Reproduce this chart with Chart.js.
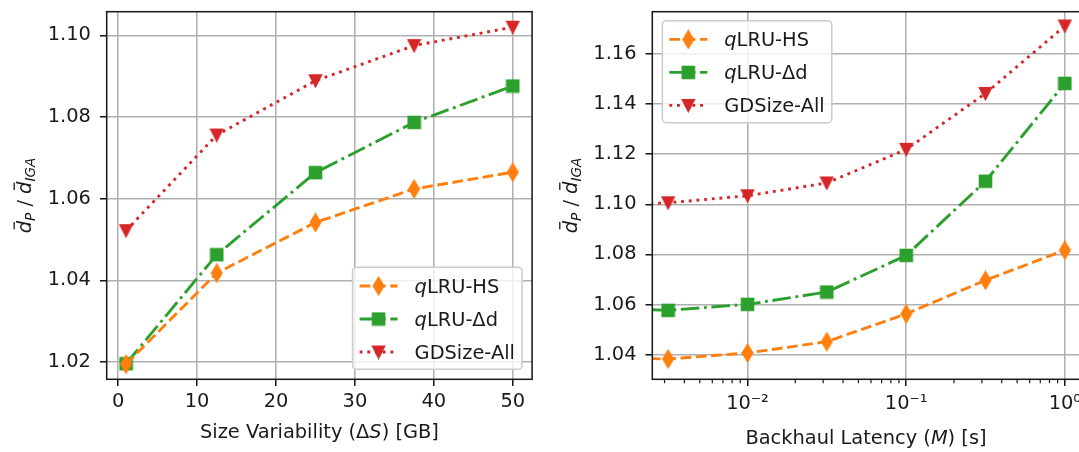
<!DOCTYPE html>
<html>
<head>
<meta charset="utf-8">
<script src="https://cdn.jsdelivr.net/npm/chart.js@4.4.1/dist/chart.umd.min.js"></script>
<style>
  html, body { margin: 0; padding: 0; background: #fff; overflow: hidden; }
  #stage { position: relative; width: 1079px; height: 452px; overflow: hidden; }
  canvas { position: absolute; top: 0; }
  #sizeChart { left: 0; }
  #latencyChart { left: 540px; }
</style>
</head>
<body>
<div id="stage">
  <canvas id="sizeChart" width="540" height="452"></canvas>
  <canvas id="latencyChart" width="560" height="452"></canvas>
</div>
<script>
// size variability panel
const sizeLevels = [1, 12.5, 25, 37.5, 50];
const sizeHS = [1.0195, 1.0418, 1.0542, 1.0624, 1.0665];
const sizeDd = [1.0196, 1.0463, 1.0664, 1.0787, 1.0876];
const sizeGD = [1.0522, 1.0756, 1.0889, 1.0975, 1.1020];
const sizeXTicks = [0, 10, 20, 30, 40, 50];
const sizeYTicks = [1.02, 1.04, 1.06, 1.08, 1.10];

// backhaul latency panel (first point sits left of the visible range)
const latLevels = [0.001, 0.00316, 0.01, 0.0316, 0.1, 0.316, 1];
const latHS = [1.0390, 1.0383, 1.0407, 1.0452, 1.0563, 1.0697, 1.0817];
const latDd = [1.0590, 1.0577, 1.0601, 1.0650, 1.0796, 1.1092, 1.1482];
const latGD = [1.0992, 1.1006, 1.1034, 1.1085, 1.1219, 1.1442, 1.1711];
const latDecades = [0.001, 0.01, 0.1, 1];
const latMinorSteps = [2, 3, 4, 5, 6, 7, 8, 9];
const latYTicks = [1.04, 1.06, 1.08, 1.10, 1.12, 1.14, 1.16];

const seriesNames = ['qLRU-HS', 'qLRU-Δd', 'GDSize-All'];
const seriesColors = ['#ff7f0e', '#2ca02c', '#d62728'];

const FONT = '"DejaVu Sans"';
const FS = 19.4;
const LW = 2.9;
const GRID = '#b0b0b0';
const INK = '#1a1a1a';
const lineStyles = [
  { dash: [10.7, 4.6], marker: 'diamond' },
  { dash: [18.6, 4.6, 2.9, 4.6], marker: 'square' },
  { dash: [2.9, 4.8], marker: 'tri' }
];

function makeMarker(shape, color) {
  const dims = { diamond: [5, 8.25], square: [5.85, 5.85], tri: [5.7, 5.6] }[shape];
  const a = dims[0], b = dims[1];
  const c = document.createElement('canvas');
  c.width = Math.ceil(2 * (a + 1.5));
  c.height = Math.ceil(2 * (b + 1.5));
  const g = c.getContext('2d');
  const cx = c.width / 2, cy = c.height / 2;
  g.beginPath();
  if (shape === 'diamond') {
    g.moveTo(cx, cy - b); g.lineTo(cx + a, cy); g.lineTo(cx, cy + b); g.lineTo(cx - a, cy);
  } else if (shape === 'square') {
    g.rect(cx - a, cy - b, 2 * a, 2 * b);
  } else {
    g.moveTo(cx - a, cy - b); g.lineTo(cx + a, cy - b); g.lineTo(cx, cy + b);
  }
  g.closePath();
  g.fillStyle = color; g.fill();
  g.lineWidth = 1.9; g.strokeStyle = color; g.stroke();
  return c;
}
const markers = lineStyles.map((s, i) => makeMarker(s.marker, seriesColors[i]));

function isDecade(v) {
  const l = Math.log10(v);
  return Math.abs(l - Math.round(l)) < 1e-6;
}
function supNum(n) {
  const map = { '-': '⁻', '0': '⁰', '1': '¹', '2': '²', '3': '³', '4': '⁴', '5': '⁵', '6': '⁶', '7': '⁷', '8': '⁸', '9': '⁹' };
  return String(n).split('').map(ch => map[ch]).join('');
}

function fontFor(p, size) { return (p.i ? 'italic ' : '') + size + 'px ' + FONT; }
function richWidth(ctx, parts, size) {
  let w = 0;
  parts.forEach(p => { ctx.font = fontFor(p, p.sub ? size * 0.7 : size); w += ctx.measureText(p.t).width; });
  return w;
}
function drawRich(ctx, parts, x, y, size) {
  parts.forEach(p => {
    const s = p.sub ? size * 0.7 : size;
    ctx.font = fontFor(p, s);
    const w = ctx.measureText(p.t).width;
    ctx.fillText(p.t, x, y + (p.sub ? size * 0.22 : 0));
    if (p.bar) ctx.fillRect(x + w * 0.32, y - size * 0.9, w * 0.6, 1.3);
    x += w;
  });
}
function labelParts(name) {
  return name[0] === 'q' ? [{ t: 'q', i: true }, { t: name.slice(1) }] : [{ t: name }];
}

const yTitleParts = [
  { t: 'd', i: true, bar: true }, { t: 'P', i: true, sub: true }, { t: ' / ' },
  { t: 'd', i: true, bar: true }, { t: 'IGA', i: true, sub: true }
];

function decorPlugin(cfg) {
  return {
    id: 'decor',
    afterDraw(chart) {
      const ctx = chart.ctx, a = chart.chartArea;
      ctx.save();
      if (cfg.minorTicks) {
        const xs = chart.scales.x;
        ctx.strokeStyle = INK; ctx.lineWidth = 1.2;
        xs.ticks.forEach(t => {
          if (isDecade(t.value)) return;
          const px = xs.getPixelForValue(t.value);
          ctx.beginPath(); ctx.moveTo(px, a.bottom); ctx.lineTo(px, a.bottom + 3.9); ctx.stroke();
        });
      }
      // axes frame
      ctx.strokeStyle = INK; ctx.lineWidth = 1.55;
      ctx.strokeRect(a.left, a.top, a.right - a.left, a.bottom - a.top);

      // legend
      const W = 169.5, H = 102, r = 3.9;
      const lx = cfg.legendCorner === 'br' ? a.right - 10 - W : a.left + 10;
      const ly = cfg.legendCorner === 'br' ? a.bottom - 10 - H : a.top + 9;
      ctx.beginPath();
      ctx.moveTo(lx + r, ly);
      ctx.arcTo(lx + W, ly, lx + W, ly + H, r);
      ctx.arcTo(lx + W, ly + H, lx, ly + H, r);
      ctx.arcTo(lx, ly + H, lx, ly, r);
      ctx.arcTo(lx, ly, lx + W, ly, r);
      ctx.closePath();
      ctx.fillStyle = 'rgba(255,255,255,0.8)'; ctx.fill();
      ctx.strokeStyle = '#cccccc'; ctx.lineWidth = 1.55; ctx.stroke();
      seriesNames.forEach((name, i) => {
        const ry = ly + 18.7 + i * 33;
        ctx.setLineDash(lineStyles[i].dash);
        ctx.strokeStyle = seriesColors[i]; ctx.lineWidth = LW;
        ctx.beginPath(); ctx.moveTo(lx + 7, ry); ctx.lineTo(lx + 45, ry); ctx.stroke();
        ctx.setLineDash([]);
        const m = markers[i];
        ctx.drawImage(m, lx + 26 - m.width / 2, ry - m.height / 2);
        ctx.fillStyle = INK; ctx.textBaseline = 'alphabetic'; ctx.textAlign = 'left';
        drawRich(ctx, labelParts(name), lx + 62, ry + 0.36 * FS, FS);
      });

      // axis titles
      ctx.fillStyle = INK; ctx.textAlign = 'left'; ctx.textBaseline = 'alphabetic';
      const xw = richWidth(ctx, cfg.xTitle, FS);
      const xc = cfg.xTitleX !== undefined ? cfg.xTitleX : (a.left + a.right) / 2;
      drawRich(ctx, cfg.xTitle, xc - xw / 2, cfg.xTitleY + 0.36 * FS, FS);
      ctx.translate(a.left - 75.7, (a.top + a.bottom) / 2);
      ctx.rotate(-Math.PI / 2);
      const yw = richWidth(ctx, yTitleParts, FS);
      drawRich(ctx, yTitleParts, -yw / 2, 0, FS);
      ctx.restore();
    }
  };
}

function makeDatasets(xs, seriesList) {
  return seriesList.map((ys, i) => ({
    label: seriesNames[i],
    data: xs.map((x, k) => ({ x: x, y: ys[k] })),
    borderColor: seriesColors[i],
    backgroundColor: seriesColors[i],
    borderWidth: LW,
    borderDash: lineStyles[i].dash,
    pointStyle: markers[i],
    pointRadius: 5,
    tension: 0,
    fill: false,
    clip: 0
  }));
}

// keep the plot box where it is: no automatic room for overhanging tick labels
function noOverhang(s) {
  s.paddingTop = 0; s.paddingBottom = 0; s.paddingLeft = 0; s.paddingRight = 0;
}

function yScale(min, max, tickVals, width) {
  return {
    type: 'linear', min: min, max: max, bounds: 'data',
    afterBuildTicks: s => { s.ticks = tickVals.map(v => ({ value: v })); },
    afterFit: s => { s.width = width; noOverhang(s); },
    ticks: { autoSkip: false, padding: 9, color: INK, font: { family: FONT, size: FS }, callback: v => v.toFixed(2) },
    grid: { color: GRID, lineWidth: 1.55, tickLength: 6.8, tickColor: INK, tickWidth: 1.55 },
    border: { display: false },
    title: { display: false }
  };
}

const baseOpts = {
  responsive: false,
  animation: false,
  devicePixelRatio: 1,
  events: [],
  plugins: { legend: { display: false }, tooltip: { enabled: false } }
};

new Chart(document.getElementById('sizeChart'), {
  type: 'line',
  data: { datasets: makeDatasets(sizeLevels, [sizeHS, sizeDd, sizeGD]) },
  options: Object.assign({}, baseOpts, {
    layout: { padding: { top: 11.7, right: 4.1, bottom: 0, left: 0 } },
    scales: {
      x: {
        type: 'linear', min: -1.45, max: 52.45, bounds: 'data',
        afterBuildTicks: s => { s.ticks = sizeXTicks.map(v => ({ value: v })); },
        afterFit: s => { s.height = 72.7; noOverhang(s); },
        ticks: { autoSkip: false, maxRotation: 0, padding: 4, color: INK, font: { family: FONT, size: FS }, callback: v => String(v) },
        grid: { color: GRID, lineWidth: 1.55, tickLength: 6.8, tickColor: INK, tickWidth: 1.55 },
        border: { display: false }
      },
      y: yScale(1.0158, 1.1058, sizeYTicks, 106.7)
    }
  }),
  plugins: [decorPlugin({
    legendCorner: 'br',
    xTitleY: 431,
    xTitle: [{ t: 'Size Variability (Δ' }, { t: 'S', i: true }, { t: ') [GB]' }]
  })]
});

const latTicks = [];
latDecades.forEach(d => {
  latTicks.push(d);
  latMinorSteps.forEach(m => latTicks.push(d * m));
});

// the right panel runs past the window edge, as in the original figure
new Chart(document.getElementById('latencyChart'), {
  type: 'line',
  data: { datasets: makeDatasets(latLevels, [latHS, latDd, latGD]) },
  options: Object.assign({}, baseOpts, {
    layout: { padding: { top: 11.7, right: 10, bottom: 0, left: 0 } },
    scales: {
      x: {
        type: 'logarithmic', min: 0.002512, max: 1.44,
        afterBuildTicks: s => {
          s.ticks = latTicks.filter(v => v >= s.min && v <= s.max).sort((p, q) => p - q).map(v => ({ value: v }));
        },
        afterFit: s => { s.height = 72.7; noOverhang(s); },
        ticks: {
          autoSkip: false, maxRotation: 0, padding: 6, color: INK, font: { family: FONT, size: FS },
          callback: v => isDecade(v) ? '10' + supNum(Math.round(Math.log10(v))) : ''
        },
        grid: {
          color: c => (c.tick && isDecade(c.tick.value)) ? GRID : 'rgba(0,0,0,0)',
          tickColor: c => (c.tick && isDecade(c.tick.value)) ? INK : 'rgba(0,0,0,0)',
          lineWidth: 1.55, tickLength: 6.8, tickWidth: 1.55
        },
        border: { display: false }
      },
      y: yScale(1.0302, 1.1768, latYTicks, 112.3)
    }
  }),
  plugins: [decorPlugin({
    legendCorner: 'tl',
    minorTicks: true,
    xTitleX: 326,
    xTitleY: 437,
    xTitle: [{ t: 'Backhaul Latency (' }, { t: 'M', i: true }, { t: ') [s]' }]
  })]
});
</script>
</body>
</html>
